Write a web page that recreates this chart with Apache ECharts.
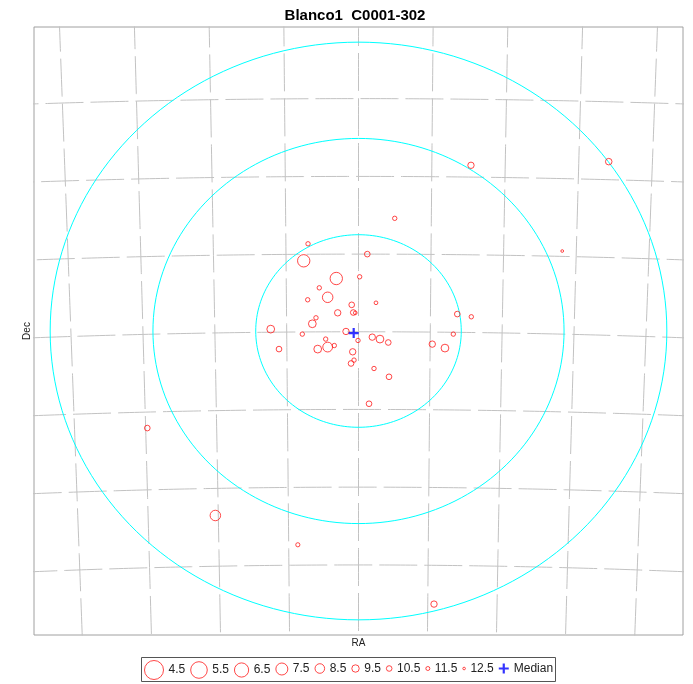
<!DOCTYPE html>
<html>
<head>
<meta charset="utf-8">
<script src="https://cdn.jsdelivr.net/npm/echarts@6/dist/echarts.min.js"></script>
<style>
  html, body { margin: 0; padding: 0; background: #fff; }
  #chart { width: 693px; height: 684px; }
</style>
</head>
<body>
<div id="chart"></div>
<script>
// Titulo y ejes
const titleText = 'Blanco1  C0001-302';
const xName = 'RA';
const yName = 'Dec';

// Estrellas: desplazamiento desde el centro del campo, en grados
const starX = [-0.609, 0.106, -0.661, -0.268, 0.014, -0.473, -0.372, -0.613, 0.211, -0.082,
               -0.251, -0.063, -0.039, -0.513, -0.557, -1.059, -0.151, -0.678, -0.006, 0.166,
               0.259, 0.359, -0.396, -0.492, -0.372, -0.292, -0.070, -0.054, -0.090, 0.187,
               0.368, 1.192, 1.361, 1.144, -0.959, 0.890, 1.043, 0.437, 0.127, 0.911,
               1.357, 3.019, 2.458, -2.548, -1.727, -0.732];
const starY = [1.123, 0.990, 0.904, 0.676, 0.698, 0.556, 0.434, 0.402, 0.363, 0.337,
               0.234, 0.238, 0.234, 0.170, 0.093, 0.024, -0.006, -0.040, -0.122, -0.079,
               -0.104, -0.148, -0.104, -0.233, -0.207, -0.187, -0.268, -0.375, -0.418, -0.483,
               -0.590, 0.218, 0.183, -0.040, -0.233, -0.169, -0.220, 1.451, -0.937, -3.517,
               2.134, 2.181, 1.030, -1.250, -2.376, -2.753];
const starMag = [11.06, 10.3, 7.2, 7.2, 11.06, 11.06, 8.0, 11.06, 11.5, 10.3,
                 9.9, 10.3, 11.5, 11.06, 9.2, 9.2, 9.9, 11.06, 11.06, 9.9,
                 9.2, 10.3, 11.06, 9.2, 8.3, 11.06, 9.9, 11.06, 10.3, 11.06,
                 10.3, 10.3, 11.06, 11.06, 10.3, 9.9, 9.2, 11.06, 10.3, 9.9,
                 9.9, 9.8, 12.2, 10.3, 8.0, 11.2];
const median = [-0.058, -0.027];

// Leyenda de magnitudes
const magBins = [4.5, 5.5, 6.5, 7.5, 8.5, 9.5, 10.5, 11.5, 12.5];
const binSizes = [19, 16.6, 14.2, 12, 9.6, 7.4, 5.6, 4, 2.6];

// Circulos de referencia (grados)
const ringRadii = [1.24, 2.48, 3.72];

// Reticula: centro del campo y lineas de RA / Dec (grados)
const centreRa = 1.0;
const centreDec = -29.99;
const raLines = [-6, -5, -4, -3, -2, -1, 0, 1, 2, 3, 4, 5, 6];
const decLines = [-35, -34, -33, -32, -31, -30, -29, -28, -27, -26, -25];
const fieldHalf = 3.915;

const FONT = '"Liberation Sans", Arial, sans-serif';
const RED = '#ff1a1a';

// Proyeccion gnomonica (grados -> grados en el plano tangente)
function project(ra, dec) {
    const r = Math.PI / 180;
    const a = (ra - centreRa) * r, d = dec * r, d0 = centreDec * r;
    const cosc = Math.sin(d0) * Math.sin(d) + Math.cos(d0) * Math.cos(d) * Math.cos(a);
    const xi = Math.cos(d) * Math.sin(a) / cosc;
    const eta = (Math.cos(d0) * Math.sin(d) - Math.sin(d0) * Math.cos(d) * Math.cos(a)) / cosc;
    return [-xi / r, eta / r];
}

function sizeOf(m) {
    if (m <= magBins[0]) return binSizes[0];
    for (let i = 1; i < magBins.length; i++) {
        if (m <= magBins[i]) {
            const t = (m - magBins[i - 1]) / (magBins[i] - magBins[i - 1]);
            return binSizes[i - 1] + t * (binSizes[i] - binSizes[i - 1]);
        }
    }
    return binSizes[binSizes.length - 1];
}

function binOf(m) {
    let best = magBins[0];
    magBins.forEach(b => { if (Math.abs(b - m) < Math.abs(best - m)) best = b; });
    return best;
}

const plusPath = 'path://M3.9,0 H6.1 V3.9 H10 V6.1 H6.1 V10 H3.9 V6.1 H0 V3.9 H3.9 Z';
const gridStyle = { color: '#c2c2c2', width: 1, type: [38, 7] };

const series = [];

// Lineas de Dec
decLines.forEach(dec => {
    const pts = [];
    for (let k = -80; k <= 80; k++) pts.push(project(centreRa + 6 * k / 80, dec));
    series.push({ type: 'line', data: pts, showSymbol: false, silent: true, z: 1, lineStyle: gridStyle });
});
// Lineas de RA
raLines.forEach(ra => {
    const pts = [];
    for (let k = 0; k <= 100; k++) pts.push(project(centreRa + ra, decLines[0] + (decLines[decLines.length - 1] - decLines[0]) * k / 100));
    series.push({ type: 'line', data: pts, showSymbol: false, silent: true, z: 1, lineStyle: gridStyle });
});
// Circulos
ringRadii.forEach(r => {
    const pts = [];
    for (let k = 0; k <= 180; k++) {
        const t = k / 180 * 2 * Math.PI;
        pts.push([r * Math.cos(t), r * Math.sin(t)]);
    }
    series.push({ type: 'line', data: pts, showSymbol: false, silent: true, z: 2,
                  lineStyle: { color: '#00ffff', width: 1 } });
});
// Estrellas por intervalo de magnitud
magBins.forEach(b => {
    const data = [];
    starMag.forEach((m, i) => { if (binOf(m) === b) data.push([starX[i], starY[i], m]); });
    series.push({
        name: String(b), type: 'scatter', data: data, z: 3,
        symbol: 'circle',
        symbolSize: v => sizeOf(v[2]) - 0.3,
        itemStyle: { color: 'transparent', borderColor: RED, borderWidth: 1 }
    });
});
// Mediana
series.push({
    name: 'Median', type: 'scatter', data: [median], z: 4,
    symbol: plusPath, symbolSize: 10,
    itemStyle: { color: '#0000ff' }
});

// Leyendas (una por entrada para poder variar el tamano del icono)
const ctx = document.createElement('canvas').getContext('2d');
ctx.font = '12px ' + FONT;
const legendNames = magBins.map(String).concat(['Median']);
const legendSizes = binSizes.concat([10]);
const legends = [];
let lx = 144;
const legendMidY = 669.5;
legendNames.forEach((name, i) => {
    const s = legendSizes[i];
    const isMedian = name === 'Median';
    legends.push({
        data: [{
            name: name,
            icon: isMedian ? plusPath : 'circle',
            itemStyle: isMedian ? { color: '#0000ff', borderWidth: 0 }
                                : { color: 'transparent', borderColor: RED, borderWidth: 1 }
        }],
        left: lx, top: legendMidY - Math.max(s, 14) / 2,
        itemWidth: s, itemHeight: s, itemGap: 0, padding: 0,
        selectedMode: false,
        textStyle: { fontSize: 12, color: '#222', fontFamily: FONT }
    });
    lx += s + 5 + ctx.measureText(name).width + 5.5;
});

const chart = echarts.init(document.getElementById('chart'), null, { renderer: 'canvas' });
chart.setOption({
    animation: false,
    backgroundColor: '#fff',
    title: {
        text: titleText, left: 350, top: 3, textAlign: 'center',
        textStyle: { fontSize: 15, fontWeight: 'bold', color: '#000', fontFamily: FONT }
    },
    legend: legends,
    grid: { left: 34, right: 10, top: 27, bottom: 49, show: true, borderColor: '#a0a0a0', borderWidth: 1 },
    xAxis: {
        type: 'value', min: -fieldHalf, max: fieldHalf,
        name: xName, nameLocation: 'middle', nameGap: 3,
        nameTextStyle: { fontSize: 10, color: '#222', fontFamily: FONT },
        axisLine: { show: false }, axisTick: { show: false }, axisLabel: { show: false }, splitLine: { show: false }
    },
    yAxis: {
        type: 'value', min: -fieldHalf, max: fieldHalf,
        name: yName, nameLocation: 'middle', nameGap: 2,
        nameTextStyle: { fontSize: 10, color: '#222', fontFamily: FONT },
        axisLine: { show: false }, axisTick: { show: false }, axisLabel: { show: false }, splitLine: { show: false }
    },
    graphic: [{
        type: 'rect', z: -1,
        shape: { x: 141.5, y: 657.5, width: Math.round(lx - 141 - 4), height: 24 },
        style: { fill: 'none', stroke: '#555', lineWidth: 1 }
    }],
    series: series
});
</script>
</body>
</html>
